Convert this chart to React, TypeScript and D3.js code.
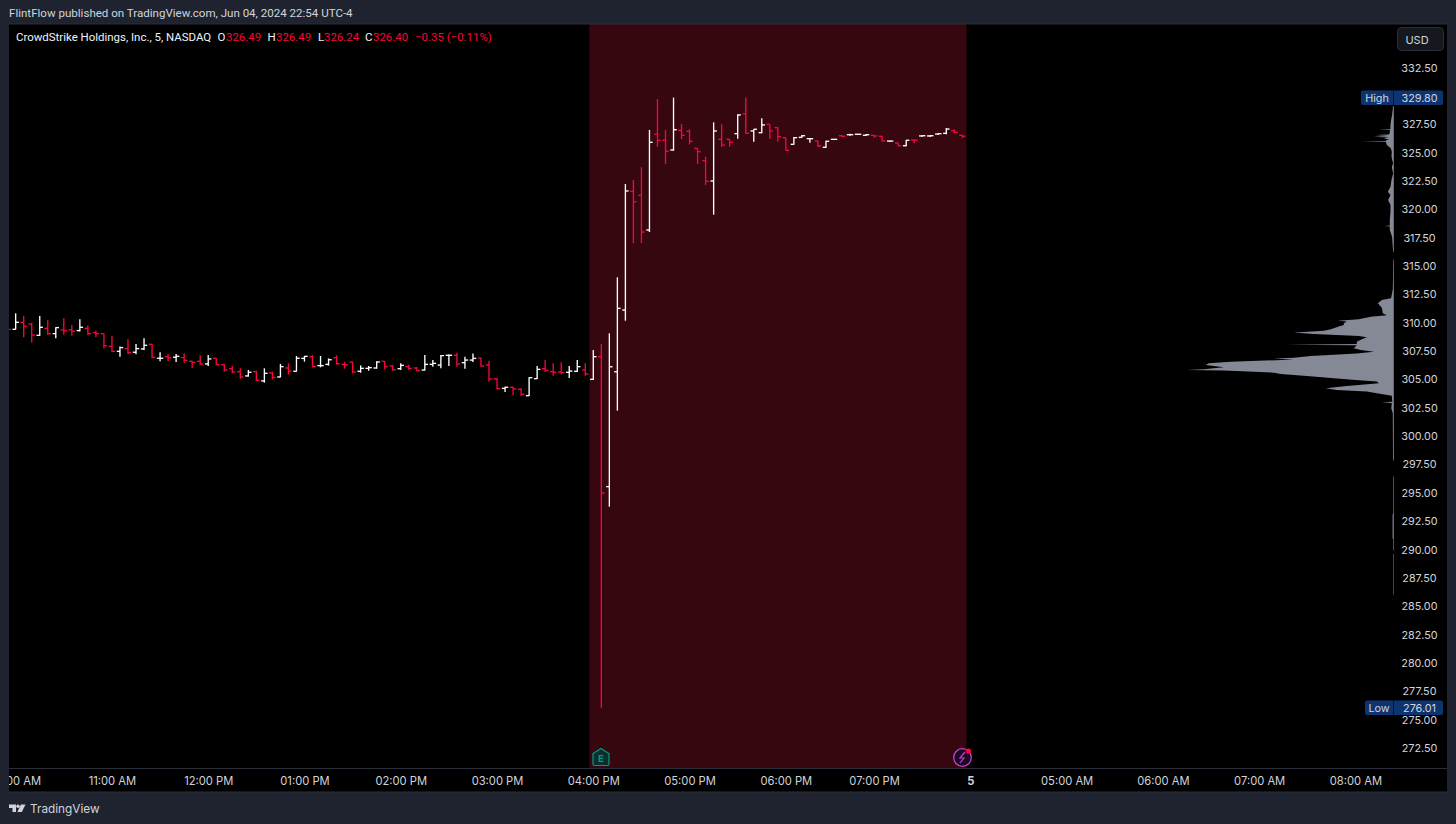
import React from "react";
import * as d3 from "d3";

// [high, low, open, close] by 5-minute bar, starting with the bar before 10:00 AM
const bars: number[][] = [
  [309.8,309.2,309.6,309.37],
  [310.78,309.37,309.37,309.99],[310.55,308.67,309.99,309.64],[309.96,308.2,309.84,308.87],[310.55,308.79,308.84,309.55],
  [310.2,308.9,309.46,308.99],[309.55,308.58,308.99,309.52],[310.34,308.9,309.31,309.26],[309.76,308.82,309.34,309.2],
  [310.26,309.17,309.26,309.55],[309.7,308.84,309.46,308.99],[309.26,308.67,309.08,308.99],[309.02,307.67,308.99,307.93],
  [308.79,307.38,307.87,307.43],[307.85,306.96,307.43,307.76],[308.49,307.2,307.67,307.32],[308.08,307.17,307.35,307.67],
  [308.58,307.55,307.64,307.96],[308.08,306.82,308.05,306.91],[307.35,306.55,306.82,306.82],[307.2,306.55,306.96,306.85],
  [307.2,306.49,306.91,306.99],[307.26,306.43,306.88,306.64],[306.61,305.96,306.55,306.46],[307.08,306.23,306.55,306.32],
  [307.11,306.14,306.32,306.76],[306.85,306.2,306.82,306.26],[306.32,305.64,306.26,305.79],[306.14,305.49,305.91,305.61],
  [305.93,305.02,305.64,305.17],[305.79,305.2,305.26,305.58],[305.73,304.79,305.64,304.88],[305.93,304.67,304.82,305.49],
  [305.64,304.97,305.52,305.14],[306.32,305.14,305.17,306.08],[306.38,305.38,305.96,305.7],[307.02,305.64,305.67,306.82],
  [307.02,306.52,306.81,306.99],[307.11,306.02,306.96,306.08],[307.02,306.02,306.17,306.17],[306.81,306.17,306.28,306.69],
  [307.08,306.25,306.87,306.34],[306.52,305.9,306.28,306.25],[306.52,305.49,306.49,305.61],[306.19,305.55,305.67,305.93],
  [306.14,305.72,305.93,305.99],[306.55,305.9,305.96,306.49],[306.58,305.84,306.55,306.08],[306.22,305.72,306.14,305.81],
  [306.37,305.78,305.9,306.19],[306.25,305.78,306.08,305.93],[306.05,305.67,305.96,305.72],[307.11,305.75,305.78,306.28],
  [306.66,306.08,306.28,306.37],[307.11,305.93,306.22,307.05],[307.14,306.14,307.08,307.08],[307.31,306.08,307.08,306.31],
  [306.96,305.9,306.43,306.66],[307.25,306.49,306.66,306.81],[306.87,306.08,306.84,306.14],[306.61,304.75,306.22,304.99],
  [305.05,304.08,305.02,304.14],[304.31,303.84,304.17,304.26],[304.31,303.58,304.26,304.11],[304.17,303.52,304.08,303.64],
  [305.14,303.49,303.52,305.11],[306.14,304.99,305.02,305.84],[306.66,305.61,305.9,305.75],[306.37,305.28,305.64,305.58],
  [306.46,305.4,305.61,305.55],[306.14,305.08,305.58,305.69],[306.66,305.61,305.67,306.08],[306.37,305.28,305.78,305.43],
  [307.55,304.9,304.96,306.96],[308.08,276.01,306.96,294.94],[309.02,293.73,295.5,306.07],[313.96,302.2,305.63,311.22],
  [322.18,310.13,311.07,321.57],[322.54,316.96,321.54,320.62],[323.66,316.98,321.19,317.95],[326.95,317.95,318.13,325.86],
  [329.68,325.47,326.57,326.04],[326.95,323.95,326.04,325.07],[329.8,325.12,325.18,326.97],[327.47,326.15,326.92,326.48],
  [327.01,325.68,326.83,325.95],[325.33,323.95,325.33,325.03],[324.59,322.1,324.24,322.42],[327.62,319.48,322.45,326.86],
  [327.45,325.47,326.12,325.62],[326.12,325.47,326.12,325.86],[328.33,326.18,326.62,328.27],[329.8,326.62,328.38,326.65],
  [327.01,325.91,326.86,327.01],[327.98,326.65,326.71,327.39],[327.45,326.18,327.45,326.86],[327.18,325.91,327.15,326.35],
  [326.27,325.12,326.27,325.15],[326.33,325.65,325.68,326.27],[326.5,326.27,326.3,326.44],[326.21,325.82,326.18,326.18],
  [326,325.42,325.97,325.56],[326,325.36,325.42,325.95],[326.15,326.09,326.12,326.12],[326.5,326.35,326.44,326.39],
  [326.62,326.44,326.53,326.53],[326.59,326.5,326.57,326.57],[326.59,326.42,326.48,326.53],[326.5,326.27,326.48,326.42],
  [326.42,325.91,326.39,325.97],[326,325.91,325.97,325.97],[325.82,325.53,325.8,325.56],[326.06,325.51,325.56,326.04],
  [326.12,325.77,326.06,326.04],[326.48,326.35,326.42,326.44],[326.5,326.33,326.42,326.44],[326.65,326.53,326.59,326.62],
  [327.12,326.57,326.65,327.03],[327.01,326.65,326.88,326.74],[326.49,326.24,326.49,326.4],
];

const profilePrices = [
  329.06,328.27,327.82,327.38,327.02,326.98,326.94,326.88,326.65,326.55,326.5,326.42,326.35,326.28,326.21,326.1,326.02,325.97,325.94,325.91,325.62,325.33,325.03,
  324.59,324,323.71,323.12,322.53,321.95,321.51,321.21,320.77,320.33,319.74,319,318.52,318.48,318.44,318.13,317.54,316.22,316.16,315.54,315.51,
  313.72,312.9,312.1,311.96,311.66,311.28,310.78,310.61,310.49,310.25,310.13,310.05,309.9,309.75,309.61,309.37,309.25,309.14,309.08,
  308.96,308.78,308.67,308.49,308.28,308.08,308.02,307.96,307.7,307.55,307.4,307.25,307.02,306.87,306.79,306.7,306.52,306.37,306.23,
  306.02,305.85,305.79,305.73,305.55,305.43,305.26,305.05,304.9,304.76,304.61,304.37,304.17,304.02,303.88,303.73,303.52,302.99,302.94,
  302.88,302.41,301.96,297.85,297.79,296.44,296.38,293.15,293,290.94,290.86,289.92,289.86,289.62,289.56,286.01,285.95,
];
const profileVolumes = [
  0.7,1.7,2.7,3.3,3.5,15,3.5,4,4,5,18,6,20,5,10,5,8,8,33,8,7,3,2,
  2.3,0.7,2,0.7,2.3,3.3,6,3.3,5.7,3.3,3.3,4,4,9.3,4,4,1.7,0.7,0,0,0.6,
  0.8,1,2.7,12,16,12,11,7,23,35,56,47,50,50,55,63,70,90,100,
  80,35,27,32,37,37,107,37,40,33,20,37,83,100,120,100,163,185,188,
  170,190,207,170,120,113,87,60,38,17,15,47,68,57,27,17,2,1.5,12,
  2,2.5,1,0.8,0,0,0.6,0.6,1.2,1.2,0.6,0.6,0,0,0.5,0.5,0,
];

const timeTickIndex = [0,12,24,36,48,60,72,84,96,107,119,131,143,155,167];
const timeTickLabels = ["10:00 AM","11:00 AM","12:00 PM","01:00 PM","02:00 PM","03:00 PM","04:00 PM","05:00 PM","06:00 PM","07:00 PM","5","05:00 AM","06:00 AM","07:00 AM","08:00 AM"];
const priceTicks = d3.range(272.5, 333, 2.5).filter((p) => p !== 330);
const sessionRange = [71.52, 118.52];
const sessionHigh = 329.8;
const sessionLow = 276.01;

const FONT = "Inter, 'Liberation Sans', sans-serif";
const NARROW = "Roboto, 'Liberation Sans', sans-serif";
const TXT = "#d1d4dc";
const RED = "#f7063a";
const FRAME = "#1f232f";

export default function App() {
  const x = d3.scaleLinear().domain([0, 72]).range([15.67, 593.3]);
  const y = d3.scaleLinear().domain([332.5, 272.5]).range([67, 747.5]);
  const vx = d3.scaleLinear().domain([0, 207]).range([1393.8, 1186.8]);
  const profilePoints = profilePrices.map((p, i) => [p, profileVolumes[i]]);
  const area = d3.area<number[]>().y((d) => y(d[0])).x0(vx(0)).x1((d) => vx(d[1]));

  return (
    <svg width={1456} height={824} style={{ position: "fixed", left: 0, top: 0, display: "block" }} fontFamily={FONT}>
      <defs>
        <clipPath id="pane"><rect x={9} y={24} width={1384} height={744} /></clipPath>
        <clipPath id="taxis"><rect x={9} y={768} width={1384} height={24} /></clipPath>
      </defs>
      <rect width={1456} height={824} fill={FRAME} />
      <rect x={9} y={24} width={1438} height={768} fill="#000" />
      <rect x={x(sessionRange[0])} y={24} width={x(sessionRange[1]) - x(sessionRange[0])} height={744} fill="#36070f" />
      <line x1={9} x2={1447} y1={768.5} y2={768.5} stroke="#2a2e39" />
      <line x1={9} x2={1447} y1={24} y2={24} stroke="#2a2e39" />
      <line x1={9} x2={1447} y1={792} y2={792} stroke="#2a2e39" />

      <text x={9} y={17} fontSize={11.55} fill={TXT} fontFamily={NARROW}>FlintFlow published on TradingView.com, Jun 04, 2024 22:54 UTC-4</text>

      <g clipPath="url(#pane)">
        {bars.map((b, k) => {
          const [h, l, o, c] = b;
          const cx = x(k - 1);
          const col = c >= o ? "#ffffff" : RED;
          return (
            <g key={k} stroke={col} strokeWidth={1.35}>
              <line x1={cx} x2={cx} y1={y(h)} y2={y(l)} />
              <line x1={cx - 3.2} x2={cx} y1={y(o)} y2={y(o)} />
              <line x1={cx} x2={cx + 3.2} y1={y(c)} y2={y(c)} />
            </g>
          );
        })}
      </g>

      <path d={area(profilePoints) || ""} fill="#858895" />

      {/* legend */}
      <g fontSize={11.45} dominantBaseline="middle" fontFamily={NARROW}>
        <text x={16} y={38} fill="#f0f3fa">CrowdStrike Holdings, Inc., 5, NASDAQ</text>
        <text x={217.5} y={38} fill="#f0f3fa">O</text>
        <text x={226} y={38} fill={RED}>326.49</text>
        <text x={267.5} y={38} fill="#f0f3fa">H</text>
        <text x={276} y={38} fill={RED}>326.49</text>
        <text x={318} y={38} fill="#f0f3fa">L</text>
        <text x={324} y={38} fill={RED}>326.24</text>
        <text x={365} y={38} fill="#f0f3fa">C</text>
        <text x={373} y={38} fill={RED}>326.40</text>
        <text x={415} y={38} fill={RED}>−0.35 (−0.11%)</text>
      </g>

      {/* price axis */}
      <g fontSize={10.8} fill={TXT} textAnchor="middle" dominantBaseline="central">
        {priceTicks.map((p) => (
          <text key={p} x={1419.5} y={y(p) + 1}>{p.toFixed(2)}</text>
        ))}
      </g>
      <rect x={1397.5} y={27.5} width={46} height={23} rx={4} fill="#15181f" stroke="#2a2e39" />
      <text x={1417} y={39.5} fontSize={11} fill={TXT} textAnchor="middle" dominantBaseline="central">USD</text>

      {[["High", sessionHigh, 1361], ["Low", sessionLow, 1365]].map(([name, v, left]: any) => (
        <g key={name}>
          <rect x={left} y={y(v) - 7.2} width={1443 - left} height={14.5} rx={2} fill="#0e3470" />
          <line x1={1393.5} x2={1393.5} y1={y(v) - 7.2} y2={y(v) + 7.3} stroke="#000" strokeOpacity={0.6} />
          <text x={(left + 1393) / 2} y={y(v) + 0.5} fontSize={10.8} fill={TXT} textAnchor="middle" dominantBaseline="central">{name}</text>
          <text x={1419.5} y={y(v) + 0.5} fontSize={10.8} fill={TXT} textAnchor="middle" dominantBaseline="central">{v.toFixed(2)}</text>
        </g>
      ))}

      {/* time axis */}
      <g clipPath="url(#taxis)" fontSize={11.2} fill={TXT} textAnchor="middle" dominantBaseline="central">
        {timeTickLabels.map((t, i) => (
          <text key={t} x={x(timeTickIndex[i]) + 0.5} y={781} fontWeight={t === "5" ? 700 : 400}>{t}</text>
        ))}
      </g>

      {/* earnings marker */}
      <path d="M601 748.5 L609 753.5 V764 Q609 765.5 607.5 765.5 H594.5 Q593 765.5 593 764 V753.5 Z" fill="#07302f" stroke="#089981" strokeWidth={1.2} />
      <text x={601} y={758} fontSize={9.5} fontWeight={700} fill="#089981" textAnchor="middle" dominantBaseline="central">E</text>

      {/* news marker */}
      <circle cx={962.5} cy={757.5} r={8.8} fill="#1c0a22" stroke="#c23fd4" strokeWidth={1.3} />
      <path d="M965 752 L960 758 H964 L960 763" fill="none" stroke="#c23fd4" strokeWidth={1.2} />
      <circle cx={968.5} cy={751} r={2.6} fill={RED} />

      {/* TradingView logo */}
      <path d="M9 804.5 H16 V812 H12.5 V808 H9 Z" fill="#d1d4dc" />
      <circle cx={18} cy={806.2} r={1.7} fill="#d1d4dc" />
      <path d="M21 804.5 H25.5 L21.8 812 H17.3 Z" fill="#d1d4dc" />
      <text x={30} y={813} fontSize={11.8} fill={TXT}>TradingView</text>
    </svg>
  );
}
